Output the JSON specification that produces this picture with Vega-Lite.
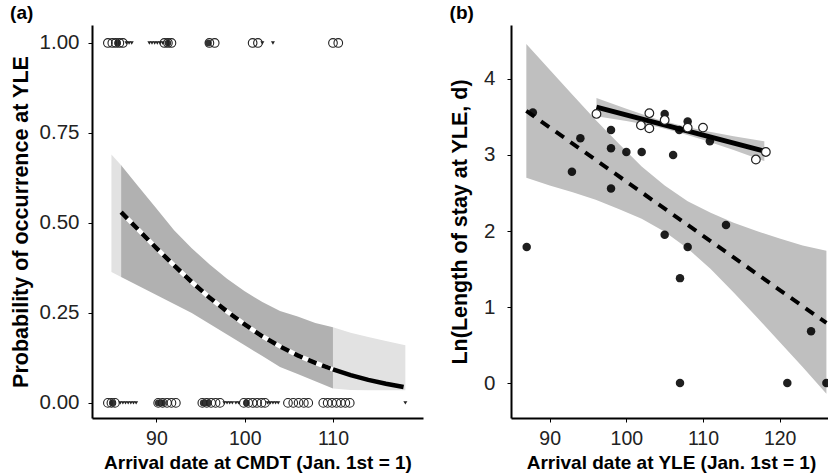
{
  "$schema": "https://vega.github.io/schema/vega-lite/v6.json",
  "background": "white",
  "padding": {"left": 10, "top": 4, "right": 0, "bottom": 0},
  "config": {
    "view": {"stroke": null},
    "font": "Liberation Sans",
    "axis": {"grid": false, "domainColor": "black", "domainWidth": 2, "tickColor": "black", "tickSize": 4, "tickWidth": 1, "labelFontSize": 19.5, "labelColor": "#222222", "titleFontWeight": "bold", "titleColor": "black", "labelFont": "Liberation Sans", "titleFont": "Liberation Sans"},
    "axisX": {"labelPadding": 7, "titlePadding": 6, "titleFontSize": 19},
    "axisY": {"labelPadding": 9, "titlePadding": 7, "titleFontSize": 21.5, "labelFontSize": 20.5},
    "title": {"fontSize": 19, "fontWeight": "bold", "anchor": "start", "frame": "bounds", "offset": 2, "color": "black", "font": "Liberation Sans"},
    "concat": {"spacing": 26}
  },
  "datasets": {
    "a_band": [
      {"x": 84.9, "y": 0.364, "y2": 0.69, "seg": "light"},
      {"x": 86.0, "y": 0.35, "y2": 0.66, "seg": "light"},
      {"x": 86.0, "y": 0.35, "y2": 0.66, "seg": "dark"},
      {"x": 88, "y": 0.325, "y2": 0.60, "seg": "dark"},
      {"x": 90, "y": 0.30, "y2": 0.54, "seg": "dark"},
      {"x": 92, "y": 0.275, "y2": 0.48, "seg": "dark"},
      {"x": 94, "y": 0.25, "y2": 0.43, "seg": "dark"},
      {"x": 96, "y": 0.22, "y2": 0.385, "seg": "dark"},
      {"x": 98, "y": 0.19, "y2": 0.345, "seg": "dark"},
      {"x": 100, "y": 0.16, "y2": 0.31, "seg": "dark"},
      {"x": 102, "y": 0.13, "y2": 0.28, "seg": "dark"},
      {"x": 104, "y": 0.10, "y2": 0.255, "seg": "dark"},
      {"x": 106, "y": 0.08, "y2": 0.24, "seg": "dark"},
      {"x": 108, "y": 0.06, "y2": 0.222, "seg": "dark"},
      {"x": 110, "y": 0.04, "y2": 0.21, "seg": "dark"},
      {"x": 110, "y": 0.04, "y2": 0.21, "seg": "light2"},
      {"x": 112, "y": 0.036, "y2": 0.195, "seg": "light2"},
      {"x": 114, "y": 0.035, "y2": 0.183, "seg": "light2"},
      {"x": 116, "y": 0.035, "y2": 0.172, "seg": "light2"},
      {"x": 118.2, "y": 0.035, "y2": 0.16, "seg": "light2"}
    ],
    "a_line": [
      {"x": 86, "y": 0.53, "seg": "dash"},
      {"x": 88, "y": 0.48, "seg": "dash"},
      {"x": 90, "y": 0.43, "seg": "dash"},
      {"x": 92, "y": 0.382, "seg": "dash"},
      {"x": 94, "y": 0.336, "seg": "dash"},
      {"x": 96, "y": 0.293, "seg": "dash"},
      {"x": 98, "y": 0.254, "seg": "dash"},
      {"x": 100, "y": 0.218, "seg": "dash"},
      {"x": 102, "y": 0.185, "seg": "dash"},
      {"x": 104, "y": 0.157, "seg": "dash"},
      {"x": 106, "y": 0.132, "seg": "dash"},
      {"x": 108, "y": 0.111, "seg": "dash"},
      {"x": 110, "y": 0.093, "seg": "dash"},
      {"x": 110, "y": 0.093, "seg": "solid"},
      {"x": 112, "y": 0.077, "seg": "solid"},
      {"x": 114, "y": 0.064, "seg": "solid"},
      {"x": 116, "y": 0.053, "seg": "solid"},
      {"x": 118, "y": 0.044, "seg": "solid"}
    ],
    "a_pts": [
      {"x": 84.5, "y": 1, "kind": "open"}, {"x": 85.0, "y": 1, "kind": "open"}, {"x": 85.4, "y": 1, "kind": "open"}, {"x": 85.8, "y": 1, "kind": "open"}, {"x": 86.2, "y": 1, "kind": "open"},
      {"x": 85.6, "y": 1, "kind": "filled"},
      {"x": 86.6, "y": 1, "kind": "tri"}, {"x": 86.9, "y": 1, "kind": "tri"}, {"x": 87.2, "y": 1, "kind": "tri"},
      {"x": 89.2, "y": 1, "kind": "tri"}, {"x": 89.5, "y": 1, "kind": "tri"}, {"x": 89.8, "y": 1, "kind": "tri"}, {"x": 90.1, "y": 1, "kind": "tri"}, {"x": 90.4, "y": 1, "kind": "tri"}, {"x": 90.7, "y": 1, "kind": "tri"},
      {"x": 90.9, "y": 1, "kind": "open"}, {"x": 91.3, "y": 1, "kind": "filled"}, {"x": 91.3, "y": 1, "kind": "open"}, {"x": 91.7, "y": 1, "kind": "open"},
      {"x": 95.9, "y": 1, "kind": "filled"}, {"x": 96.0, "y": 1, "kind": "open"}, {"x": 96.6, "y": 1, "kind": "open"},
      {"x": 100.9, "y": 1, "kind": "open"}, {"x": 101.5, "y": 1, "kind": "open"}, {"x": 102.0, "y": 1, "kind": "tri"},
      {"x": 103.2, "y": 1, "kind": "tri"},
      {"x": 110.0, "y": 1, "kind": "open"}, {"x": 110.6, "y": 1, "kind": "open"},
      {"x": 84.5, "y": 0, "kind": "open"}, {"x": 84.9, "y": 0, "kind": "open"}, {"x": 85.3, "y": 0, "kind": "open"}, {"x": 85.0, "y": 0, "kind": "filled"},
      {"x": 85.9, "y": 0, "kind": "tri"}, {"x": 86.2, "y": 0, "kind": "tri"}, {"x": 86.5, "y": 0, "kind": "tri"}, {"x": 86.8, "y": 0, "kind": "tri"}, {"x": 87.1, "y": 0, "kind": "tri"}, {"x": 87.4, "y": 0, "kind": "tri"}, {"x": 87.7, "y": 0, "kind": "tri"},
      {"x": 90.2, "y": 0, "kind": "filled"}, {"x": 90.7, "y": 0, "kind": "filled"},
      {"x": 90.2, "y": 0, "kind": "open"}, {"x": 90.7, "y": 0, "kind": "open"}, {"x": 91.2, "y": 0, "kind": "open"}, {"x": 91.7, "y": 0, "kind": "open"}, {"x": 92.2, "y": 0, "kind": "open"},
      {"x": 95.3, "y": 0, "kind": "filled"}, {"x": 95.8, "y": 0, "kind": "filled"},
      {"x": 95.2, "y": 0, "kind": "open"}, {"x": 95.7, "y": 0, "kind": "open"}, {"x": 96.2, "y": 0, "kind": "open"}, {"x": 96.7, "y": 0, "kind": "open"}, {"x": 97.2, "y": 0, "kind": "open"},
      {"x": 97.7, "y": 0, "kind": "tri"}, {"x": 98.0, "y": 0, "kind": "tri"}, {"x": 98.3, "y": 0, "kind": "tri"}, {"x": 98.6, "y": 0, "kind": "tri"}, {"x": 99.0, "y": 0, "kind": "tri"}, {"x": 99.3, "y": 0, "kind": "tri"},
      {"x": 99.9, "y": 0, "kind": "open"}, {"x": 100.4, "y": 0, "kind": "open"}, {"x": 100.9, "y": 0, "kind": "open"}, {"x": 101.4, "y": 0, "kind": "open"}, {"x": 101.9, "y": 0, "kind": "open"}, {"x": 102.3, "y": 0, "kind": "open"},
      {"x": 100.2, "y": 0, "kind": "filled"},
      {"x": 102.6, "y": 0, "kind": "tri"}, {"x": 102.9, "y": 0, "kind": "tri"}, {"x": 103.2, "y": 0, "kind": "tri"}, {"x": 103.5, "y": 0, "kind": "tri"}, {"x": 103.8, "y": 0, "kind": "tri"},
      {"x": 104.9, "y": 0, "kind": "open"}, {"x": 105.5, "y": 0, "kind": "open"}, {"x": 106.1, "y": 0, "kind": "open"}, {"x": 106.7, "y": 0, "kind": "open"}, {"x": 107.2, "y": 0, "kind": "open"},
      {"x": 108.9, "y": 0, "kind": "open"}, {"x": 109.4, "y": 0, "kind": "open"}, {"x": 109.9, "y": 0, "kind": "open"}, {"x": 110.4, "y": 0, "kind": "open"}, {"x": 110.9, "y": 0, "kind": "open"}, {"x": 111.4, "y": 0, "kind": "open"}, {"x": 111.9, "y": 0, "kind": "open"},
      {"x": 118.2, "y": 0, "kind": "tri"}
    ],
    "b_band1": [
      {"x": 86.95, "y": 2.70, "y2": 4.46},
      {"x": 90, "y": 2.60, "y2": 4.12},
      {"x": 93, "y": 2.51, "y2": 3.79},
      {"x": 96, "y": 2.41, "y2": 3.46},
      {"x": 99, "y": 2.29, "y2": 3.15},
      {"x": 102, "y": 2.16, "y2": 2.85},
      {"x": 105, "y": 1.99, "y2": 2.60},
      {"x": 108, "y": 1.77, "y2": 2.39},
      {"x": 111, "y": 1.50, "y2": 2.24},
      {"x": 114, "y": 1.19, "y2": 2.11},
      {"x": 117, "y": 0.87, "y2": 2.00},
      {"x": 120, "y": 0.54, "y2": 1.90},
      {"x": 123, "y": 0.21, "y2": 1.81},
      {"x": 126.1, "y": -0.14, "y2": 1.74}
    ],
    "b_line1": [
      {"x": 86.95, "y": 3.58},
      {"x": 96, "y": 2.935},
      {"x": 105, "y": 2.294},
      {"x": 114, "y": 1.652},
      {"x": 126.1, "y": 0.79}
    ],
    "b_band2": [
      {"x": 96.1, "y": 3.51, "y2": 3.75},
      {"x": 100, "y": 3.447, "y2": 3.607},
      {"x": 104, "y": 3.371, "y2": 3.471},
      {"x": 107, "y": 3.292, "y2": 3.392},
      {"x": 110, "y": 3.202, "y2": 3.322},
      {"x": 114, "y": 3.066, "y2": 3.246},
      {"x": 118, "y": 2.92, "y2": 3.18}
    ],
    "b_line2": [
      {"x": 96.1, "y": 3.63},
      {"x": 118, "y": 3.05}
    ],
    "b_pts": [
      {"x": 87.8, "y": 3.56, "kind": "filled"},
      {"x": 105.0, "y": 3.54, "kind": "filled"},
      {"x": 108.0, "y": 3.44, "kind": "filled"},
      {"x": 106.9, "y": 3.33, "kind": "filled"},
      {"x": 110.9, "y": 3.18, "kind": "filled"},
      {"x": 98.0, "y": 3.33, "kind": "filled"},
      {"x": 94.0, "y": 3.22, "kind": "filled"},
      {"x": 98.0, "y": 3.09, "kind": "filled"},
      {"x": 100.0, "y": 3.04, "kind": "filled"},
      {"x": 102.0, "y": 3.04, "kind": "filled"},
      {"x": 106.1, "y": 3.0, "kind": "filled"},
      {"x": 92.9, "y": 2.78, "kind": "filled"},
      {"x": 98.0, "y": 2.56, "kind": "filled"},
      {"x": 87.0, "y": 1.79, "kind": "filled"},
      {"x": 105.0, "y": 1.95, "kind": "filled"},
      {"x": 108.0, "y": 1.79, "kind": "filled"},
      {"x": 113.0, "y": 2.08, "kind": "filled"},
      {"x": 107.0, "y": 1.38, "kind": "filled"},
      {"x": 124.1, "y": 0.68, "kind": "filled"},
      {"x": 107.0, "y": 0, "kind": "filled"},
      {"x": 121.0, "y": 0, "kind": "filled"},
      {"x": 126.1, "y": 0, "kind": "filled"},
      {"x": 96.1, "y": 3.54, "kind": "open"},
      {"x": 103.0, "y": 3.55, "kind": "open"},
      {"x": 101.9, "y": 3.39, "kind": "open"},
      {"x": 103.0, "y": 3.35, "kind": "open"},
      {"x": 105.0, "y": 3.46, "kind": "open"},
      {"x": 110.0, "y": 3.36, "kind": "open"},
      {"x": 108.0, "y": 3.36, "kind": "open"},
      {"x": 116.9, "y": 2.94, "kind": "open"},
      {"x": 118.2, "y": 3.04, "kind": "open"}
    ]
  },
  "hconcat": [
    {
      "title": {"text": "(a)"},
      "width": 331,
      "height": 393,
      "encoding": {
        "x": {"field": "x", "type": "quantitative", "scale": {"domain": [82.7, 120.2], "nice": false, "zero": false}, "axis": {"values": [90, 100, 110], "title": "Arrival date at CMDT (Jan. 1st = 1)"}},
        "y": {"field": "y", "type": "quantitative", "scale": {"domain": [-0.042, 1.05], "nice": false, "zero": false}, "axis": {"values": [0, 0.25, 0.5, 0.75, 1], "format": ".2f", "title": "Probability of occurrence at YLE"}}
      },
      "layer": [
        {
          "data": {"name": "a_band"},
          "mark": {"type": "area", "opacity": 1},
          "encoding": {
            "y2": {"field": "y2"},
            "color": {"field": "seg", "type": "nominal", "scale": {"domain": ["light", "dark", "light2"], "range": ["#e2e2e2", "#b1b1b1", "#e2e2e2"]}, "legend": null}
          }
        },
        {
          "data": {"name": "a_line"},
          "transform": [{"filter": "datum.seg === 'dash'"}],
          "mark": {"type": "line", "color": "white", "strokeWidth": 4.5},
          "encoding": {}
        },
        {
          "data": {"name": "a_line"},
          "transform": [{"filter": "datum.seg === 'dash'"}],
          "mark": {"type": "line", "color": "black", "strokeWidth": 4.5, "strokeDash": [9, 6]},
          "encoding": {}
        },
        {
          "data": {"name": "a_line"},
          "transform": [{"filter": "datum.seg === 'solid'"}],
          "mark": {"type": "line", "color": "black", "strokeWidth": 4.5},
          "encoding": {}
        },
        {
          "data": {"name": "a_pts"},
          "transform": [{"filter": "datum.kind === 'tri'"}],
          "mark": {"type": "point", "shape": "triangle-down", "filled": true, "color": "#222222", "size": 16, "opacity": 1},
          "encoding": {}
        },
        {
          "data": {"name": "a_pts"},
          "transform": [{"filter": "datum.kind === 'filled'"}],
          "mark": {"type": "point", "shape": "circle", "filled": true, "color": "#333333", "size": 45, "opacity": 1},
          "encoding": {}
        },
        {
          "data": {"name": "a_pts"},
          "transform": [{"filter": "datum.kind === 'open'"}],
          "mark": {"type": "point", "shape": "circle", "filled": false, "color": "#222222", "strokeWidth": 1.1, "size": 75, "opacity": 1},
          "encoding": {}
        }
      ]
    },
    {
      "title": {"text": "(b)"},
      "width": 320,
      "height": 393,
      "encoding": {
        "x": {"field": "x", "type": "quantitative", "scale": {"domain": [84.95, 126.7], "nice": false, "zero": false}, "axis": {"values": [90, 100, 110, 120], "title": "Arrival date at YLE (Jan. 1st = 1)"}},
        "y": {"field": "y", "type": "quantitative", "scale": {"domain": [-0.46, 4.71], "nice": false, "zero": false}, "axis": {"values": [0, 1, 2, 3, 4], "title": "Ln(Length of stay at YLE, d)", "labelPadding": 12, "titlePadding": 12}}
      },
      "layer": [
        {
          "data": {"name": "b_band1"},
          "mark": {"type": "area", "color": "#bfbfbf", "opacity": 1},
          "encoding": {"y2": {"field": "y2"}}
        },
        {
          "data": {"name": "b_band2"},
          "mark": {"type": "area", "color": "#c4c4c4", "opacity": 1},
          "encoding": {"y2": {"field": "y2"}}
        },
        {
          "data": {"name": "b_pts"},
          "transform": [{"filter": "datum.kind === 'filled'"}],
          "mark": {"type": "point", "shape": "circle", "filled": true, "color": "#000000", "size": 72, "opacity": 0.88},
          "encoding": {}
        },
        {
          "data": {"name": "b_line1"},
          "mark": {"type": "line", "color": "black", "strokeWidth": 4, "strokeDash": [10, 8]},
          "encoding": {}
        },
        {
          "data": {"name": "b_line2"},
          "mark": {"type": "line", "color": "black", "strokeWidth": 5},
          "encoding": {}
        },
        {
          "data": {"name": "b_pts"},
          "transform": [{"filter": "datum.kind === 'open'"}],
          "mark": {"type": "point", "shape": "circle", "filled": true, "fill": "white", "stroke": "#222222", "strokeWidth": 1.2, "size": 75, "opacity": 1},
          "encoding": {}
        }
      ]
    }
  ]
}
